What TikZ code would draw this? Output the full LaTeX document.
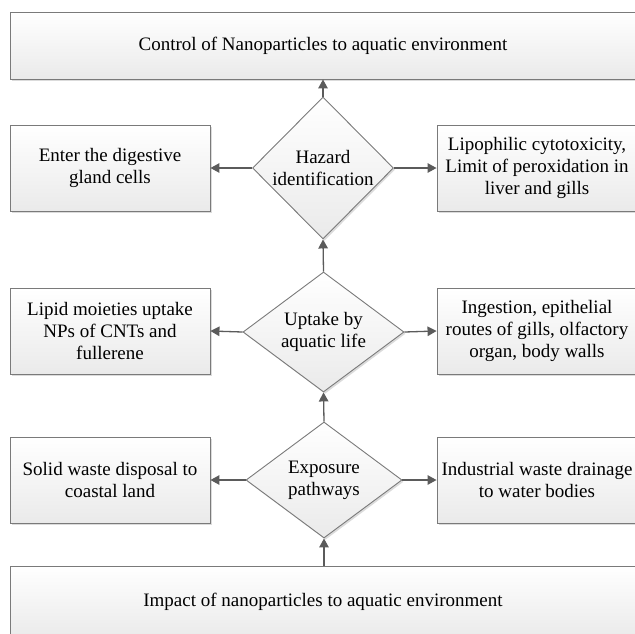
\documentclass[tikz,border=0pt]{standalone}
\usepackage{fontspec}
\setmainfont{Liberation Serif}
\usetikzlibrary{shapes.geometric,arrows.meta,shadows}

\definecolor{edgegray}{HTML}{7A7A7A}
\definecolor{arrowgray}{HTML}{5B5B5B}
\definecolor{fillbottom}{HTML}{EAEAEA}

\tikzset{
  x=1pt, y=-1pt,
  every node/.style={font=\fontsize{19}{22}\selectfont, text=black},
  softshadow/.style={drop shadow={shadow xshift=1.5pt, shadow yshift=-1.8pt, fill=black, opacity=0.14}},
  infobox/.style={rectangle, draw=edgegray, line width=0.9pt, top color=white, bottom color=fillbottom,
                  softshadow, minimum width=200pt, minimum height=86pt, inner sep=0pt, align=center},
  % boxes that run past the right edge of the page; their text sits 5pt left of the node centre
  edgebox/.style={infobox, minimum width=210pt},
  widebox/.style={infobox, minimum width=636pt, minimum height=67pt},
  boxtext/.style={label={[align=center, xshift=-5pt]center:#1}},
  decision/.style={diamond, draw=edgegray, line width=0.9pt, top color=white, bottom color=fillbottom,
                   softshadow, inner sep=0pt, align=center},
  flow/.style={draw=arrowgray, line width=1.3pt, -{Triangle[length=9pt,width=9.5pt]}},
}

\begin{document}
\begin{tikzpicture}
  \useasboundingbox (0,0) rectangle (635,633);

  % goal and source
  \node[widebox, boxtext={Control of Nanoparticles to aquatic environment}] (control) at (328,45.5) {};
  \node[widebox, minimum height=72pt, boxtext={Impact of nanoparticles to aquatic environment}] (impact) at (328,602) {};

  % decision diamonds (sizes set explicitly, text placed at the centre)
  \node[decision, minimum width=141pt, minimum height=142pt,
        label={[align=center]center:Hazard\\identification}] (hazard) at (323,168) {};
  \node[decision, minimum width=161pt, minimum height=120pt,
        label={[align=center]center:Uptake by\\aquatic life}] (uptake) at (323.5,332) {};
  \node[decision, minimum width=156pt, minimum height=116pt,
        label={[align=center]center:Exposure\\pathways}] (exposure) at (324,480) {};

  % side outcomes
  \node[infobox] (digest) at (110,168) {Enter the digestive\\gland cells};
  \node[edgebox, boxtext={Lipophilic cytotoxicity,\\Limit of peroxidation in\\liver and gills}] (lipo) at (542,168) {};
  \node[infobox] (lipid) at (110,331) {Lipid moieties uptake\\NPs of CNTs and\\fullerene};
  \node[edgebox, boxtext={Ingestion, epithelial\\routes of gills, olfactory\\organ, body walls}] (ingest) at (542,331) {};
  \node[infobox] (solid) at (110,480) {Solid waste disposal to\\coastal land};
  \node[edgebox, boxtext={Industrial waste drainage\\to water bodies}] (industrial) at (542,480) {};

  % main vertical flow
  \draw[flow] (impact.north -| exposure.south) -- (exposure.south);
  \draw[flow] (exposure.north) -- (uptake.south);
  \draw[flow] (uptake.north) -- (hazard.south);
  \draw[flow] (hazard.north) -- (hazard.north |- control.south);

  % branches
  \draw[flow] (hazard.west) -- (digest.east);
  \draw[flow] (hazard.east) -- (lipo.west);
  \draw[flow] (uptake.west) -- (lipid.east);
  \draw[flow] (uptake.east) -- (ingest.west);
  \draw[flow] (exposure.west) -- (solid.east);
  \draw[flow] (exposure.east) -- (industrial.west);
\end{tikzpicture}
\end{document}
